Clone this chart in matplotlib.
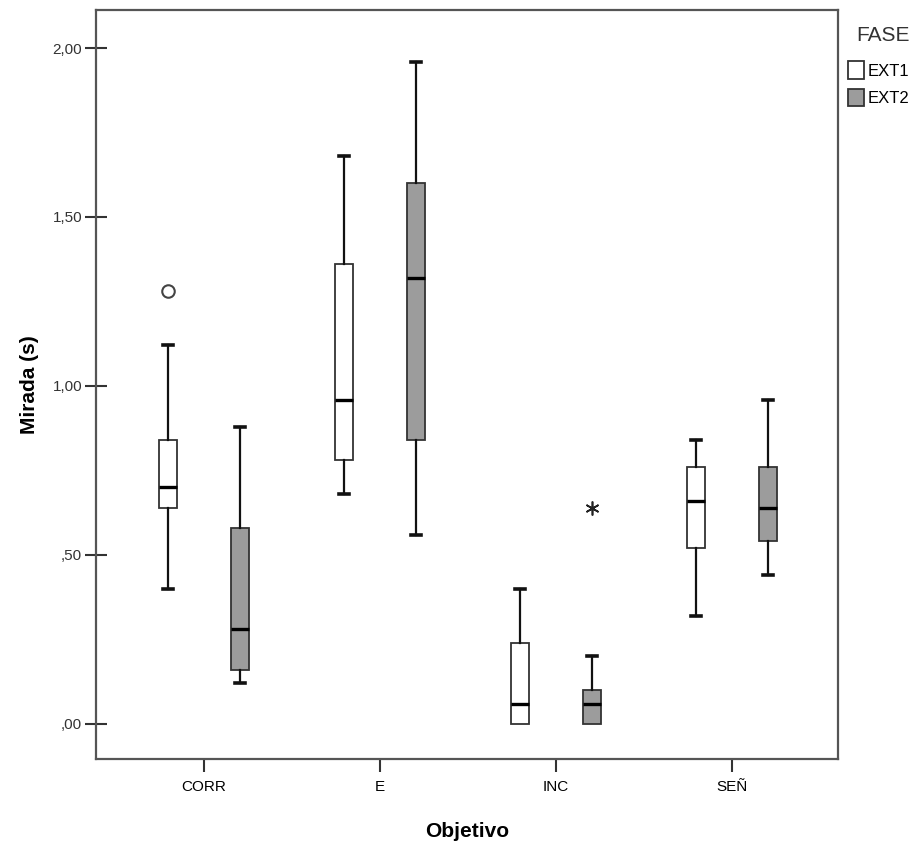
import numpy as np
import matplotlib.pyplot as plt
from matplotlib.patches import Patch

plt.rcParams['font.family'] = ['Liberation Sans', 'DejaVu Sans']

# Categorías y fases
categorias = ['CORR', 'E', 'INC', 'SEÑ']
fases = ['EXT1', 'EXT2']

# Estadísticos (segundos)
ext1_min = [0.40, 0.68, 0.00, 0.32]
ext1_q1 = [0.64, 0.78, 0.00, 0.52]
ext1_med = [0.70, 0.96, 0.06, 0.66]
ext1_q3 = [0.84, 1.36, 0.24, 0.76]
ext1_max = [1.12, 1.68, 0.40, 0.84]

ext2_min = [0.12, 0.56, 0.00, 0.44]
ext2_q1 = [0.16, 0.84, 0.00, 0.54]
ext2_med = [0.28, 1.32, 0.06, 0.64]
ext2_q3 = [0.58, 1.60, 0.10, 0.76]
ext2_max = [0.88, 1.96, 0.20, 0.96]

# Valores atípicos (o) y extremos (*)
atipicos_ext1 = [[1.28], [], [], []]
extremos_ext2 = [[], [], [0.64], []]

yticks = [0.0, 0.5, 1.0, 1.5, 2.0]
yticklabels = [',00', ',50', '1,00', '1,50', '2,00']

colores = ['white', '#9c9c9c']
desplazamiento = 0.205
ancho = 0.105

fig = plt.figure(figsize=(9.2, 8.42), dpi=100)
ax = fig.add_axes([0.1043, 0.0986, 0.8065, 0.8895])

def stats(mn, q1, med, q3, mx):
    return [dict(whislo=a, q1=b, med=c, q3=d, whishi=e, fliers=[])
            for a, b, c, d, e in zip(mn, q1, med, q3, mx)]

series = [stats(ext1_min, ext1_q1, ext1_med, ext1_q3, ext1_max),
          stats(ext2_min, ext2_q1, ext2_med, ext2_q3, ext2_max)]

x = np.arange(len(categorias))
for k, st in enumerate(series):
    pos = x + (k - 0.5) * 2 * desplazamiento
    bp = ax.bxp(st, positions=pos, widths=ancho, patch_artist=True,
                showfliers=False, capwidths=0.055,
                boxprops=dict(facecolor=colores[k], edgecolor='#333333', linewidth=1.3),
                medianprops=dict(color='black', linewidth=2.4),
                whiskerprops=dict(color='#111111', linewidth=1.6),
                capprops=dict(color='#111111', linewidth=2.6))
    # sin bigote inferior cuando coincide con el cuartil
    for i, s in enumerate(st):
        if s['whislo'] == s['q1']:
            bp['caps'][2 * i].set_visible(False)

# Atípicos
for i, vals in enumerate(atipicos_ext1):
    if vals:
        ax.plot([x[i] - desplazamiento] * len(vals), vals, 'o', ms=9,
                mfc='none', mec='#444444', mew=1.5)
for i, vals in enumerate(extremos_ext2):
    if vals:
        ax.plot([x[i] + desplazamiento] * len(vals), vals, marker=(6, 2, 0),
                ls='none', ms=10, color='#222222', mew=1.2)

ax.set_xlim(-0.614, 3.602)
ax.set_ylim(-0.1036, 2.1124)
ax.set_xticks(x)
ax.set_xticklabels(categorias, fontsize=11)
ax.set_yticks(yticks)
ax.set_yticklabels(yticklabels, fontsize=11, color='#333333')
ax.tick_params(axis='y', direction='inout', length=16, width=1.5, color='#333333', pad=2)
ax.tick_params(axis='x', direction='out', length=9, width=1.5, color='#333333', pad=6)

for lado in ['left', 'bottom', 'top', 'right']:
    ax.spines[lado].set_color('#555555')
    ax.spines[lado].set_linewidth(1.6)

ax.set_xlabel('Objetivo', fontsize=15, fontweight='bold', labelpad=20)
ax.set_ylabel('Mirada (s)', fontsize=15, fontweight='bold', labelpad=10)

# Leyenda
fig.text(0.9598, 0.958, 'FASE', ha='center', va='center', fontsize=15, color='#333333')
handles = [Patch(facecolor=colores[k], edgecolor='#333333', linewidth=1.3) for k in range(2)]
fig.legend(handles, fases, loc='upper left', bbox_to_anchor=(0.922, 0.927),
           frameon=False, handlelength=0.95, handleheight=1.2, handletextpad=0.2,
           labelspacing=0.62, borderaxespad=0, borderpad=0, fontsize=12)

fig.savefig('out.png', dpi=100)
